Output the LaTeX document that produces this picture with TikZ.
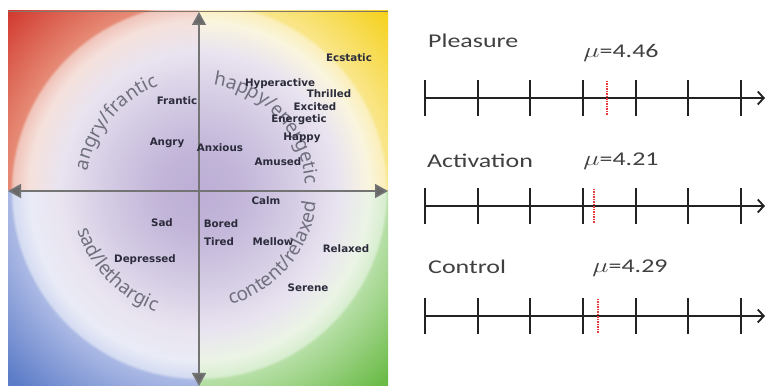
\documentclass[tikz,border=0pt]{standalone}
\usepackage{fontspec}
\usepackage{graphicx}
\usetikzlibrary{arrows.meta,decorations.text}

\newfontfamily\wordfont{DejaVu Sans}
\newfontfamily\arcfont{Noto Sans}
\newfontfamily\labelfont{Carlito}

% mood-circle colours
\definecolor{moodA}{HTML}{BCAED5}
\definecolor{moodB}{HTML}{C2B5D9}
\definecolor{moodC}{HTML}{D3CAE3}
\definecolor{moodD}{HTML}{E9E4F0}
% red quadrant
\definecolor{redL}{HTML}{F5E1DC}
\definecolor{redE}{HTML}{F0C4BA}
\definecolor{redO}{HTML}{E68A75}
\definecolor{redC}{HTML}{D0352B}
% yellow quadrant
\definecolor{yelL}{HTML}{FAF5DE}
\definecolor{yelE}{HTML}{FBEFBA}
\definecolor{yelO}{HTML}{F9E68A}
\definecolor{yelC}{HTML}{F5CF12}
% blue quadrant
\definecolor{bluL}{HTML}{E9EBF6}
\definecolor{bluE}{HTML}{D5DCF2}
\definecolor{bluO}{HTML}{AAB8E4}
\definecolor{bluC}{HTML}{5C7CC8}
% green quadrant
\definecolor{grnL}{HTML}{EBF4E5}
\definecolor{grnE}{HTML}{D8EED0}
\definecolor{grnO}{HTML}{B6DFA6}
\definecolor{grnC}{HTML}{6BBB47}

\definecolor{wordcol}{HTML}{2B2B3B}
\definecolor{arccol}{HTML}{6F6F7D}
\definecolor{axiscol}{HTML}{747474}
\definecolor{scalecol}{HTML}{222222}
\definecolor{labelcol}{HTML}{404040}
\definecolor{meancol}{HTML}{E83A3A}

% radial shadings: 25bp corresponds to the 275pt radius of the shaded circle
\pgfdeclareradialshading{qtl}{\pgfpoint{0bp}{0bp}}{color(0bp)=(moodA); color(3.64bp)=(moodB); color(8.18bp)=(moodC); color(12.73bp)=(moodD); color(15.45bp)=(redL); color(16.91bp)=(redE); color(17.18bp)=(redO); color(24.1bp)=(redC); color(50bp)=(redC)}
\pgfdeclareradialshading{qtr}{\pgfpoint{0bp}{0bp}}{color(0bp)=(moodA); color(3.64bp)=(moodB); color(8.18bp)=(moodC); color(12.73bp)=(moodD); color(15.45bp)=(yelL); color(16.91bp)=(yelE); color(17.18bp)=(yelO); color(24.1bp)=(yelC); color(50bp)=(yelC)}
\pgfdeclareradialshading{qbl}{\pgfpoint{0bp}{0bp}}{color(0bp)=(moodA); color(3.64bp)=(moodB); color(8.18bp)=(moodC); color(12.73bp)=(moodD); color(15.45bp)=(bluL); color(16.91bp)=(bluE); color(17.18bp)=(bluO); color(24.1bp)=(bluC); color(50bp)=(bluC)}
\pgfdeclareradialshading{qbr}{\pgfpoint{0bp}{0bp}}{color(0bp)=(moodA); color(3.64bp)=(moodB); color(8.18bp)=(moodC); color(12.73bp)=(moodD); color(15.45bp)=(grnL); color(16.91bp)=(grnE); color(17.18bp)=(grnO); color(24.1bp)=(grnC); color(50bp)=(grnC)}

\tikzset{
  word/.style={font=\wordfont\bfseries\fontsize{10.3}{12}\selectfont, text=wordcol, inner sep=0pt},
  arclabel/.style={decorate, decoration={text along path, text align=center,
      text={|\arcfont\fontsize{19}{21}\selectfont\color{arccol}|#1}}},
  moodaxis/.style={draw=axiscol, line width=1.6pt,
      {Triangle[length=13pt,width=14pt,fill=axiscol!90!black]}-{Triangle[length=13pt,width=14pt,fill=axiscol!90!black]}},
  scaleaxis/.style={draw=scalecol, line width=2.2pt, -{Straight Barb[length=6pt,width=13pt,line width=1.8pt]}},
  tickmark/.style={draw=scalecol, line width=2.2pt},
  meanmark/.style={draw=meancol, line width=1.8pt, dash pattern=on 1.5pt off 1pt},
  scalelabel/.style={font=\labelfont\fontsize{19.5}{22}\selectfont, text=labelcol, inner sep=0pt},
}

\begin{document}
\begin{tikzpicture}[x=1pt,y=1pt]
\useasboundingbox[fill=white] (0,0) rectangle (766,388);

% ---- mood circle background, one quadrant at a time ----
\coordinate (O) at (199,197);
\begin{scope}
  \clip (8,197) rectangle (199,377);
  \shade[shading=qtl] (O) circle (275pt);
\end{scope}
\begin{scope}
  \clip (199,197) rectangle (388,377);
  \shade[shading=qtr] (O) circle (275pt);
\end{scope}
\begin{scope}
  \clip (8,2) rectangle (199,197);
  \shade[shading=qbl] (O) circle (275pt);
\end{scope}
\begin{scope}
  \clip (199,2) rectangle (388,197);
  \shade[shading=qbr] (O) circle (275pt);
\end{scope}
\draw[draw=axiscol!80!brown, line width=0.8pt] (8,377) -- (388,377);

% ---- curved group labels ----
\path[arclabel={angry/frantic}] (O) ++(190.5:113pt) arc (190.5:90.5:113pt);
\path[arclabel={happy/energetic}] (O) ++(98:107pt) arc (98:-12:107pt);
\path[arclabel={sad/lethargic}] (O) ++(174:128pt) arc (174:274:128pt);
\path[arclabel={content/relaxed}] (O) ++(-90:118pt) arc (-90:10:118pt);

% ---- axes ----
\coordinate (top) at (199,376);
\coordinate (bot) at (199,2);
\coordinate (lft) at (8,197);
\coordinate (rgt) at (388,197);
\draw[moodaxis] (bot) -- (top);
\draw[moodaxis] (lft) -- (rgt);

% ---- mood words ----
\node[word] (ecstatic) at (349,330) {Ecstatic};
\node[word] (hyper) at (280,304) {Hyperactive};
\node[word] (thrilled) at (329,294) {Thrilled};
\node[word] (excited) at (315,281) {Excited};
\node[word] (energetic) at (299,268) {Energetic};
\node[word] (happy) at (302,250) {Happy};
\node[word] (amused) at (278,226) {Amused};
\node[word] (frantic) at (177,287) {Frantic};
\node[word] (angry) at (167,245) {Angry};
\node[word] (anxious) at (220,240) {Anxious};
\node[word] (calm) at (266,187) {Calm};
\node[word] (sad) at (162,165) {Sad};
\node[word] (bored) at (221,164) {Bored};
\node[word] (tired) at (219,146) {Tired};
\node[word] (mellow) at (273,146) {Mellow};
\node[word] (relaxed) at (346,139) {Relaxed};
\node[word] (depressed) at (145,128) {Depressed};
\node[word] (serene) at (308,100) {Serene};

% ---- rating scales (1..7) ----
\foreach \nm/\yy/\mean/\mx/\my in {
    pleasure/290/4.46/621/335,
    activation/182/4.21/621/227,
    control/72/4.29/630/120} {
  \coordinate (\nm-start) at (425,\yy);
  \coordinate (\nm-end) at (765,\yy);
  \draw[scaleaxis] (\nm-start) -- (\nm-end);
  \foreach \tx in {425,478,530,583,636,688,741}
    \draw[tickmark] (\tx,\yy-18) -- (\tx,\yy+18);
  \draw[meanmark] (425+52.7*\mean-52.7,\yy-17) -- (425+52.7*\mean-52.7,\yy+18);
  \node[scalelabel] (\nm-mean) at (\mx,\my) {\scalebox{1.33}[1]{$\mu$=\mean}};
}
\node[scalelabel, anchor=west] (pleasure-label) at (428,347) {\scalebox{1.33}[1]{Pleasure}};
\node[scalelabel, anchor=west] (activation-label) at (427,227) {\scalebox{1.33}[1]{Activation}};
\node[scalelabel, anchor=west] (control-label) at (428,121) {\scalebox{1.33}[1]{Control}};
\end{tikzpicture}
\end{document}
